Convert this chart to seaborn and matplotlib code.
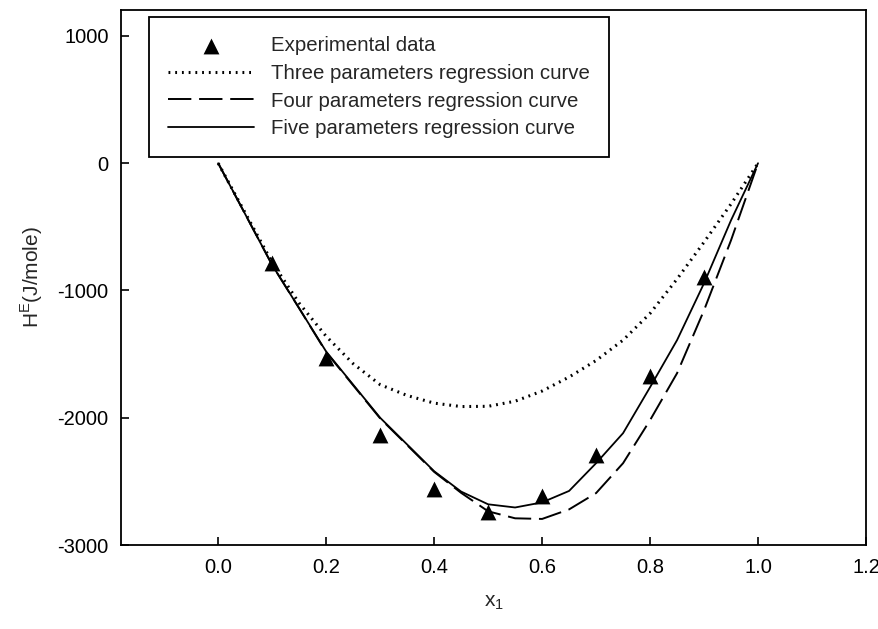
import matplotlib
matplotlib.use("Agg")
import matplotlib.pyplot as plt
import seaborn as sns
import pandas as pd

# mole fraction grid for the regression curves
x_curve = [0.0, 0.05, 0.1, 0.15, 0.2, 0.25, 0.3, 0.35, 0.4, 0.45, 0.5,
           0.55, 0.6, 0.65, 0.7, 0.75, 0.8, 0.85, 0.9, 0.95, 1.0]
three_par = [0, -390, -780, -1100, -1360, -1575, -1740, -1825, -1885, -1912, -1910,
             -1870, -1790, -1680, -1550, -1390, -1180, -910, -620, -320, 0]
four_par = [0, -400, -800, -1140, -1485, -1745, -2005, -2215, -2425, -2590, -2735,
            -2790, -2795, -2720, -2592, -2357, -2019, -1650, -1155, -605, 0]
five_par = [0, -400, -800, -1140, -1480, -1740, -2000, -2210, -2420, -2580, -2680,
            -2705, -2665, -2575, -2357, -2121, -1760, -1390, -943, -448, 0]

# experimental points
x_exp = [0.1, 0.2, 0.3, 0.4, 0.5, 0.6, 0.7, 0.8, 0.9]
h_exp = [-786, -1532, -2137, -2560, -2742, -2616, -2294, -1673, -896]

sns.set_style("ticks")
plt.rcParams["font.family"] = ["Liberation Sans", "DejaVu Sans"]
plt.rcParams["axes.unicode_minus"] = False

fig, ax = plt.subplots(figsize=(8.79, 6.29), dpi=100)
fig.subplots_adjust(left=0.1377, right=0.9852, top=0.9841, bottom=0.1335)

curves = pd.DataFrame({"x": x_curve, "three": three_par, "four": four_par, "five": five_par})
exp = pd.DataFrame({"x": x_exp, "h": h_exp})

sns.scatterplot(data=exp, x="x", y="h", ax=ax, marker="^", s=130, color="black",
                edgecolor="black", linewidth=0, label="Experimental data", zorder=5)
sns.lineplot(data=curves, x="x", y="three", ax=ax, color="black", lw=2.2,
             linestyle=(0, (0.6, 1.6)), label="Three parameters regression curve")
sns.lineplot(data=curves, x="x", y="four", ax=ax, color="black", lw=1.4,
             linestyle=(0, (12, 4)), label="Four parameters regression curve")
sns.lineplot(data=curves, x="x", y="five", ax=ax, color="black", lw=1.3,
             label="Five parameters regression curve")

ax.set_xlim(-0.18, 1.2)
ax.set_ylim(-3000, 1204)
ax.set_xticks([0.0, 0.2, 0.4, 0.6, 0.8, 1.0, 1.2])
ax.set_xticklabels(["0.0", "0.2", "0.4", "0.6", "0.8", "1.0", "1.2"])
ax.set_yticks([-3000, -2000, -1000, 0, 1000])
ax.tick_params(direction="in", length=6, width=1.2, labelsize=14.5, pad=9, colors="black")
for s in ax.spines.values():
    s.set_linewidth(1.3)
    s.set_color("black")

ax.set_xlabel("x$_\\mathregular{1}$", fontsize=15, labelpad=12)
ax.set_ylabel("H$^\\mathregular{E}$(J/mole)", fontsize=15, labelpad=9)

leg = ax.legend(loc="upper left", bbox_to_anchor=(0.0376, 0.987), fontsize=14.7,
                handlelength=4.2, handletextpad=0.8, borderpad=0.95, labelspacing=0.42,
                fancybox=False, framealpha=1, edgecolor="black", borderaxespad=0)
leg.get_frame().set_linewidth(1.3)

fig.savefig("out.png", dpi=100)
